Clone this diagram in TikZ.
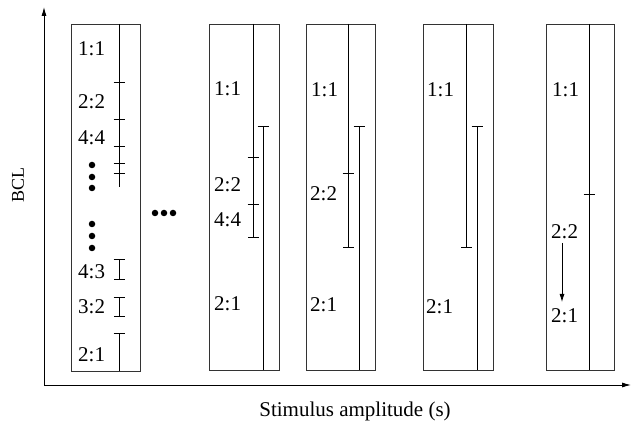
\documentclass[tikz,border=0pt]{standalone}
\usepackage{fontspec}
\setmainfont{Liberation Serif}
\usetikzlibrary{arrows.meta}
\begin{document}
\begin{tikzpicture}[x=1pt,y=-1pt,
  panel/.style={draw=black!80, line width=0.8pt, inner sep=0pt, outer sep=0pt, anchor=north west},
  lab/.style={anchor=west, inner sep=0pt, font=\fontsize{21}{21}\selectfont},
  axlab/.style={inner sep=0pt, font=\fontsize{21}{21}\selectfont},
  bar/.style={line width=0.8pt},
  capb/.style={bar, {Bar[width=11pt,line width=0.8pt]}-{Bar[width=11pt,line width=0.8pt]}},
  capend/.style={bar, -{Bar[width=11pt,line width=0.8pt]}},
  capstart/.style={bar, {Bar[width=11pt,line width=0.8pt]}-},
  dot/.style={circle, fill=black, inner sep=0pt, minimum size=6.5pt},
  axis/.style={line width=0.8pt, -{Latex[length=9pt,width=5pt]}}
]
\useasboundingbox (0,0) rectangle (633,425);
% axes
\coordinate (O) at (44,385);
\coordinate (Ytop) at (44,7);
\coordinate (Xend) at (631,385);
\draw[axis] (O) -- (Ytop);
\draw[axis] (O) -- (Xend);
\node[axlab, rotate=90, font=\fontsize{18}{18}\selectfont] (ylab) at (18,185) {BCL};
\node[axlab] (xlab) at (355,411) {Stimulus amplitude (s)};

% ---------- box 1
\node[panel, minimum width=69pt, minimum height=347pt] (b1) at (71,24) {};
\coordinate (b1t) at (119,24);
\coordinate (b1e) at (119,187);
\draw[bar] (b1t) -- (b1e);
\foreach \yy in {82,119,146,163,173} \draw[bar] (113.5,\yy) -- (124.5,\yy);
\node[lab] (b1l1) at (78,49) {1:1};
\node[lab] (b1l2) at (78,102) {2:2};
\node[lab] (b1l3) at (78,138) {4:4};
\node[dot] (d1) at (92,165) {};
\node[dot] (d2) at (92,177) {};
\node[dot] (d3) at (92,188) {};
\node[dot] (d4) at (92,224) {};
\node[dot] (d5) at (92,236) {};
\node[dot] (d6) at (92,248) {};
\node[lab] (b1l4) at (78,272) {4:3};
\coordinate (e43a) at (119,259); \coordinate (e43b) at (119,280);
\draw[capb] (e43a) -- (e43b);
\node[lab] (b1l5) at (78,307) {3:2};
\coordinate (e32a) at (119,297); \coordinate (e32b) at (119,317);
\draw[capb] (e32a) -- (e32b);
\node[lab] (b1l6) at (78,355) {2:1};
\coordinate (e21a) at (119,333); \coordinate (e21b) at (119,371);
\draw[capstart] (e21a) -- (e21b);

% dots between
\node[dot] (h1) at (155,213) {};
\node[dot] (h2) at (164,213) {};
\node[dot] (h3) at (173,213) {};

% ---------- box 2
\node[panel, minimum width=70pt, minimum height=346pt] (b2) at (209,24) {};
\coordinate (b2t) at (253,24); \coordinate (b2e) at (253,238);
\draw[capend] (b2t) -- (b2e);
\foreach \yy in {157,204} \draw[bar] (247.5,\yy) -- (258.5,\yy);
\coordinate (b2s) at (263,126); \coordinate (b2b) at (263,370);
\draw[capstart] (b2s) -- (b2b);
\node[lab] (b2l1) at (214,89) {1:1};
\node[lab] (b2l2) at (214,185) {2:2};
\node[lab] (b2l3) at (214,220) {4:4};
\node[lab] (b2l4) at (214,304) {2:1};

% ---------- box 3
\node[panel, minimum width=69pt, minimum height=346pt] (b3) at (306,24) {};
\coordinate (b3t) at (348,24); \coordinate (b3e) at (348,248);
\draw[capend] (b3t) -- (b3e);
\draw[bar] (342.5,173) -- (353.5,173);
\coordinate (b3s) at (359,126); \coordinate (b3b) at (359,370);
\draw[capstart] (b3s) -- (b3b);
\node[lab] (b3l1) at (311,90) {1:1};
\node[lab] (b3l2) at (310,194) {2:2};
\node[lab] (b3l3) at (310,305) {2:1};

% ---------- box 4
\node[panel, minimum width=70pt, minimum height=346pt] (b4) at (423,24) {};
\coordinate (b4t) at (466,24); \coordinate (b4e) at (466,248);
\draw[capend] (b4t) -- (b4e);
\coordinate (b4s) at (477,126); \coordinate (b4b) at (477,370);
\draw[capstart] (b4s) -- (b4b);
\node[lab] (b4l1) at (427,90) {1:1};
\node[lab] (b4l2) at (426,307) {2:1};

% ---------- box 5
\node[panel, minimum width=68pt, minimum height=346pt] (b5) at (546,24) {};
\coordinate (b5t) at (589,24); \coordinate (b5b) at (589,370);
\draw[bar] (b5t) -- (b5b);
\draw[bar] (583.5,194) -- (594.5,194);
\node[lab] (b5l1) at (552,90) {1:1};
\node[lab] (b5l2) at (551,232) {2:2};
\node[lab] (b5l3) at (551,316) {2:1};
\coordinate (ar1) at (562,243);
\coordinate (ar2) at (562,302);
\draw[bar, -{Latex[length=8pt,width=5pt]}] (ar1) -- (ar2);
\end{tikzpicture}
\end{document}
